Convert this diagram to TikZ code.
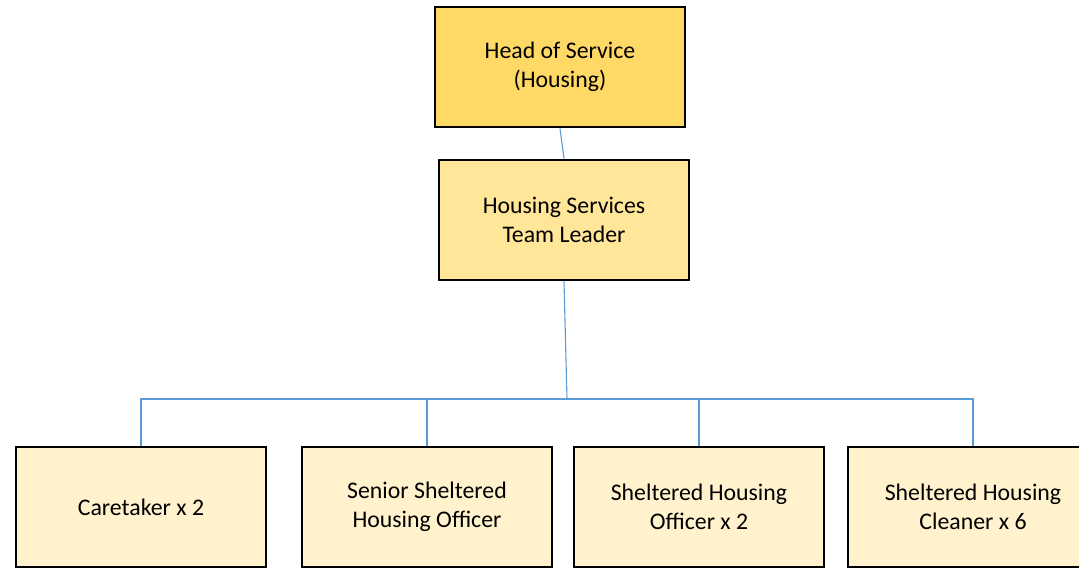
\documentclass[tikz,border=0pt]{standalone}
\usepackage{fontspec}
\setmainfont{Carlito}
\begin{document}
\begin{tikzpicture}[x=1pt,y=-1pt,
  box/.style={draw=black,line width=2.8pt,minimum width=250pt,minimum height=120pt,align=center,inner sep=0pt,
    font=\fontsize{23.8}{29}\selectfont},
]
\useasboundingbox (0,0) rectangle (1079,569);
\tikzset{conn/.style={draw={rgb,255:red,91;green,155;blue,213},line width=1.1pt}}
\node[box,fill={rgb,255:red,255;green,217;blue,102}] (head) at (560,67) {Head of Service\\(Housing)};
\node[box,fill={rgb,255:red,255;green,230;blue,153}] (lead) at (564,220) {Housing Services\\Team Leader};
\node[box,fill={rgb,255:red,255;green,242;blue,204}] (c1) at (141,507) {Caretaker x 2};
\node[box,fill={rgb,255:red,255;green,242;blue,204}] (c2) at (427,507) {Senior Sheltered\\Housing Officer};
\node[box,fill={rgb,255:red,255;green,242;blue,204}] (c3) at (699,507) {Sheltered Housing\\Officer x 2};
\node[box,fill={rgb,255:red,255;green,242;blue,204}] (c4) at (973,507) {Sheltered Housing\\Cleaner x 6};
\coordinate (j) at (567,399);
\draw[conn] (head.south) -- (lead.north);
\draw[conn] (lead.south) -- (j);
\draw[conn] (j) -| (c1.north);
\draw[conn] (j) -| (c2.north);
\draw[conn] (j) -| (c3.north);
\draw[conn] (j) -| (c4.north);
\end{tikzpicture}
\end{document}
